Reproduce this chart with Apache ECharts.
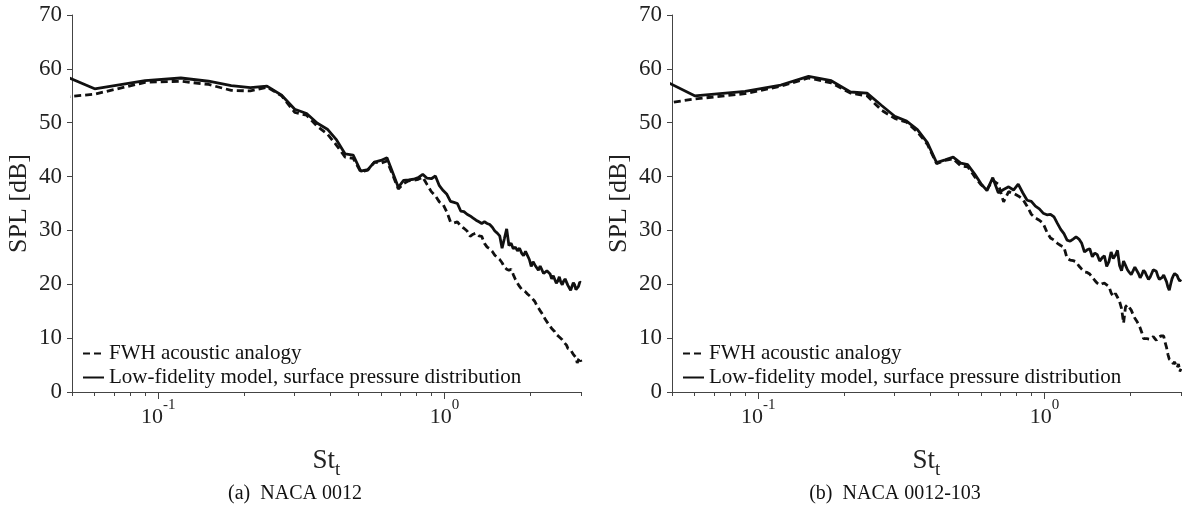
<!DOCTYPE html>
<html><head><meta charset="utf-8">
<script src="https://cdn.jsdelivr.net/npm/echarts@6/dist/echarts.min.js"></script>
<style>html,body{margin:0;padding:0;background:#fff}#c{width:1182px;height:519px}</style>
</head><body><div id="c"></div>
<script>
// Strouhal number bins
const St = [0.03,0.06,0.09,0.12,0.15,0.18,0.21,0.24,0.27,0.30,
0.33,0.36,0.39,0.42,0.45,0.48,0.51,0.54,0.57,0.60,
0.63,0.66,0.69,0.72,0.75,0.78,0.81,0.84,0.87,0.90,
0.93,0.96,0.99,1.02,1.05,1.08,1.11,1.14,1.17,1.20,
1.23,1.26,1.29,1.32,1.35,1.38,1.41,1.44,1.47,1.50,
1.53,1.56,1.59,1.62,1.65,1.68,1.71,1.74,1.77,1.80,
1.83,1.86,1.89,1.92,1.95,1.98,2.01,2.04,2.07,2.10,
2.13,2.16,2.19,2.22,2.25,2.28,2.31,2.34,2.37,2.40,
2.43,2.46,2.49,2.52,2.55,2.58,2.61,2.64,2.67,2.70,
2.73,2.76,2.79,2.82,2.85,2.88,2.91,2.94,2.97,3.00];

// (a) NACA 0012
const fwhA = [53.8,55.3,57.5,57.7,57.1,56.0,55.9,56.6,55.0,51.9,
51.4,49.3,47.9,45.8,43.6,43.4,40.9,41.2,42.7,42.5,
42.9,40.3,37.7,38.7,39.2,39.3,39.5,39.9,38.5,37.2,
36.4,35.3,34.8,33.4,31.6,31.4,31.6,30.8,30.4,29.9,
28.9,29.3,29.5,29.0,28.9,27.6,26.9,26.6,26.1,25.4,
25.0,24.6,24.0,23.2,22.8,22.6,22.8,21.8,20.9,20.2,
19.6,19.1,18.8,18.6,18.2,17.9,17.6,17.2,16.8,16.1,
15.6,15.1,14.6,14.1,13.5,13.2,12.6,12.3,11.8,11.5,
11.2,10.7,10.5,10.2,10.0,9.7,9.3,9.1,8.7,8.1,
7.8,7.9,7.4,7.0,6.8,6.4,5.4,6.0,6.4,5.6];
const lowA = [63.1,56.3,57.8,58.3,57.7,56.9,56.5,56.8,55.1,52.5,
51.7,49.9,48.8,46.8,44.2,44.0,41.0,41.3,42.7,43.0,
43.5,40.7,38.0,39.3,39.4,39.5,39.8,40.4,39.7,39.6,
40.1,38.3,37.4,36.7,35.4,35.2,35.0,33.6,33.5,33.0,
32.7,32.3,31.9,31.6,31.3,31.6,31.3,31.1,30.6,29.9,
29.5,29.0,26.7,28.5,30.3,27.2,27.6,26.6,26.9,26.2,
26.7,25.8,25.3,26.1,25.9,24.6,23.3,24.2,23.6,23.5,
22.6,23.4,23.2,22.0,21.7,22.5,22.8,21.9,21.0,21.6,
20.9,20.2,20.6,21.4,20.4,19.9,20.6,21.0,20.7,19.8,
19.5,18.9,19.6,20.3,19.9,19.0,18.8,19.6,20.4,20.3];

// (b) NACA 0012-103
const fwhB = [52.1,54.4,55.4,56.8,58.3,57.4,55.5,55.0,52.3,50.8,
50.1,48.3,46.0,42.4,43.0,43.3,42.0,41.8,40.0,38.5,
37.6,39.3,38.6,35.3,37.2,36.9,36.4,35.8,34.5,33.0,
32.3,31.9,31.3,29.7,28.6,28.2,27.6,27.2,26.9,24.8,
24.5,24.4,24.2,23.4,22.8,22.3,22.2,21.9,21.3,20.7,
20.2,19.9,20.1,20.2,19.9,19.6,18.4,17.7,18.3,17.6,
16.8,15.5,12.8,15.8,16.2,16.4,15.2,14.4,13.7,13.2,
12.6,11.9,11.0,9.9,9.6,9.9,10.0,9.8,10.1,10.3,
10.0,9.6,10.1,10.0,10.4,10.1,10.4,9.2,8.3,7.0,
6.1,6.3,5.7,5.2,5.6,4.9,4.5,5.2,3.8,4.3];
const lowB = [63.0,55.0,55.8,57.0,58.6,57.8,55.7,55.5,53.2,51.2,
50.3,48.7,46.3,42.6,43.1,43.6,42.5,42.2,40.5,38.7,
37.4,39.8,37.0,37.6,38.1,37.5,38.6,37.0,35.6,35.4,
34.5,34.0,33.2,32.9,33.0,32.5,31.3,30.2,29.4,28.2,
28.0,28.4,28.8,28.4,27.6,26.0,26.4,26.6,25.1,25.8,
25.5,24.3,24.9,25.3,23.3,24.2,26.0,24.8,25.4,26.3,
23.5,22.5,24.3,23.5,22.7,22.2,21.8,22.5,23.2,22.9,
22.0,21.2,21.8,22.6,22.2,21.5,20.9,21.3,22.0,22.7,
23.0,22.4,21.5,20.9,20.8,21.3,21.7,21.6,20.5,19.5,
18.9,20.0,21.0,21.6,22.0,22.2,21.6,21.0,20.6,20.9];

const yTicks = [0,10,20,30,40,50,60,70];
const xMajorTicks = [0.1, 1];
const xMinorTicks = [0.05,0.06,0.07,0.08,0.09,0.2,0.3,0.4,0.5,0.6,0.7,0.8,0.9,2,3];
const captions = ['(a)  NACA 0012', '(b)  NACA 0012-103'];
const seriesNames = ['FWH acoustic analogy', 'Low-fidelity model, surface pressure distribution'];
const panels = [[fwhA, lowA], [fwhB, lowB]];

const FONT = '"Liberation Serif", "Times New Roman", serif';
const AX = '#444';
const TXT = '#222';
const LINE = '#111';
const gridLeft = [72, 672];
const captionX = [295, 895];

const chart = echarts.init(document.getElementById('c'), null, {renderer: 'canvas'});

const grid = [], xAxis = [], yAxis = [], series = [], legend = [], graphic = [];
gridLeft.forEach((left, i) => {
  grid.push({left: left, width: 509, top: 15, height: 377});
  xAxis.push({
    type: 'log', logBase: 10, gridIndex: i, min: 0.05, max: 3, position: 'bottom',
    axisLine: {show: true, lineStyle: {color: AX, width: 1}},
    axisTick: {show: true, customValues: xMajorTicks, length: 7, lineStyle: {color: AX, width: 1}},
    axisLabel: {
      customValues: xMajorTicks, margin: 6, color: TXT, fontFamily: FONT, fontSize: 22,
      formatter: v => '{b|10}{s|' + Math.round(Math.log10(v)) + '}',
      rich: {
        b: {fontFamily: FONT, fontSize: 22, lineHeight: 30, color: TXT, verticalAlign: 'bottom'},
        s: {fontFamily: FONT, fontSize: 15, lineHeight: 16, color: TXT, verticalAlign: 'top'}
      }
    },
    splitLine: {show: false},
    name: 'St{sub|t}', nameLocation: 'middle', nameGap: 50,
    nameTextStyle: {
      fontFamily: FONT, fontSize: 27, color: TXT, lineHeight: 38,
      rich: {sub: {fontFamily: FONT, fontSize: 19, color: TXT, lineHeight: 19, verticalAlign: 'bottom'}}
    }
  });
  xAxis.push({
    type: 'log', logBase: 10, gridIndex: i, min: 0.05, max: 3, position: 'bottom',
    axisLine: {show: false},
    axisTick: {show: true, customValues: xMinorTicks, length: 4, lineStyle: {color: AX, width: 1}},
    axisLabel: {show: false},
    splitLine: {show: false}
  });
  yAxis.push({
    type: 'value', gridIndex: i, min: 0, max: 70, interval: 10,
    axisLine: {show: true, lineStyle: {color: AX, width: 1}},
    axisTick: {show: true, length: 5, lineStyle: {color: AX, width: 1}},
    axisLabel: {customValues: yTicks, margin: 10, color: TXT, fontFamily: FONT, fontSize: 23},
    splitLine: {show: false},
    name: 'SPL [dB]', nameLocation: 'middle', nameGap: 40, nameRotate: 90,
    nameTextStyle: {fontFamily: FONT, fontSize: 26, color: TXT}
  });
  const [fwh, low] = panels[i];
  series.push({
    type: 'line', name: seriesNames[0], xAxisIndex: 2 * i, yAxisIndex: i,
    data: St.map((s, j) => [s, fwh[j]]), symbol: 'none', showSymbol: false,
    lineStyle: {color: LINE, width: 2.8, type: [7, 4]}, itemStyle: {color: LINE},
    clip: true, z: 4, animation: false
  });
  series.push({
    type: 'line', name: seriesNames[1], xAxisIndex: 2 * i, yAxisIndex: i,
    data: St.map((s, j) => [s, low[j]]), symbol: 'none', showSymbol: false,
    lineStyle: {color: LINE, width: 2.8, type: 'solid'}, itemStyle: {color: LINE},
    clip: true, z: 3, animation: false
  });
  legend.push({
    left: left + 5, top: 338, orient: 'vertical', itemGap: 3, itemWidth: 21, itemHeight: 10,
    data: seriesNames, selectedMode: false,
    itemStyle: {opacity: 0},
    textStyle: {fontFamily: FONT, fontSize: 21, color: LINE}
  });
  graphic.push({
    type: 'text', x: captionX[i], y: 494,
    style: {text: captions[i], textAlign: 'center', textVerticalAlign: 'middle',
      font: '20px ' + FONT, fill: LINE}
  });
});

chart.setOption({
  animation: false,
  backgroundColor: '#fff',
  grid, xAxis, yAxis, series, legend, graphic
});
</script>
</body></html>
